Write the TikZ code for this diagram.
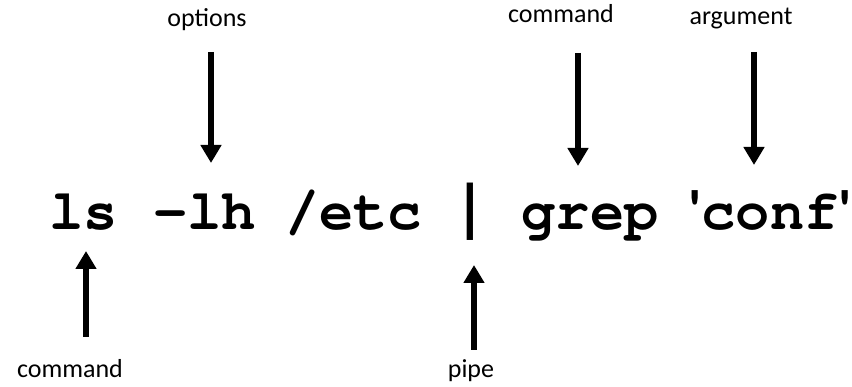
\documentclass[tikz,border=0pt]{standalone}
\usepackage{fontspec}
\usepackage{graphicx}
\setmainfont{Carlito}
\newfontfamily\codefont{TeX Gyre Cursor}[Ligatures=TeXOff]
\newfontfamily\quotefont{Carlito}[Ligatures=TeXOff]
\usetikzlibrary{arrows.meta}
\tikzset{
  lbl/.style={anchor=base, inner sep=0pt, font=\fontsize{26}{30}\selectfont},
  code/.style={anchor=base, inner sep=0pt, font=\codefont\bfseries\fontsize{57}{60}\selectfont},
  arr/.style={line width=6pt, -{Triangle[width=20pt,length=18pt]}}
}
\newcommand{\sq}{{\quotefont\bfseries '}}
\begin{document}
\begin{tikzpicture}[x=1pt,y=-1pt]
\useasboundingbox (0,0) rectangle (852,387);
% command line words
\node[code] (w1) at (83.5,230) {ls};
\node[code] (w2) at (204.5,230) {-lh};
\node[code] (w3) at (353.5,230) {/etc};
\node[code] (w4) at (470.5,230) {\scalebox{1.1}[1.3]{|}};
\node[code] (w5) at (590,230) {grep};
\node[code] (w6) at (770,230) {\sq conf\sq};
% labels
\node[lbl] (l1) at (207,27) {options};
\node[lbl] (l2) at (561,23) {command};
\node[lbl] (l3) at (741,25) {argument};
\node[lbl] (l4) at (70,378) {command};
\node[lbl] (l5) at (471,378) {pipe};
% arrow ends
\coordinate (a1s) at (211,52);  \coordinate (a1e) at (211,163);
\coordinate (a2s) at (578,53);  \coordinate (a2e) at (578,166);
\coordinate (a3s) at (754,52);  \coordinate (a3e) at (754,165);
\coordinate (a4s) at (86,337);  \coordinate (a4e) at (86,251);
\coordinate (a5s) at (474,350); \coordinate (a5e) at (474,265);
\draw[arr] (a1s) -- (a1e);
\draw[arr] (a2s) -- (a2e);
\draw[arr] (a3s) -- (a3e);
\draw[arr] (a4s) -- (a4e);
\draw[arr] (a5s) -- (a5e);
\end{tikzpicture}
\end{document}
